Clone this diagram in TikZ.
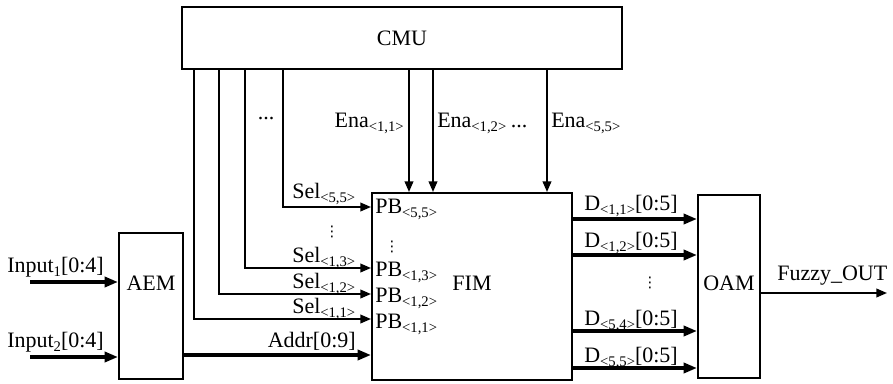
\documentclass[tikz,border=0pt]{standalone}
\usepackage{fontspec}
\setmainfont{Liberation Serif}
\newfontfamily\dvfont{DejaVu Sans}
\usetikzlibrary{arrows.meta,fit}
\newcommand{\sbs}[1]{\raisebox{-0.45ex}{\fontsize{11}{12}\selectfont #1}}
\newcommand{\vdt}{{\dvfont\fontsize{11}{11}\selectfont ⋮}}
\begin{document}
\begin{tikzpicture}[x=0.75pt,y=-0.75pt, font=\fontsize{16.5}{18}\selectfont,
  box/.style={draw, line width=1.5pt, inner sep=0pt},
  thinarrow/.style={line width=1.3pt, -{Triangle[length=8pt,width=6.5pt]}},
  thickarrow/.style={line width=2.6pt, -{Triangle[length=10pt,width=7.5pt]}},
  lbl/.style={inner sep=0pt}]
\useasboundingbox (0,0) rectangle (893,383);

% boxes
\node[box, fit={(182,7)(622,69)}] (cmu) {};
\node[box, fit={(372,193)(572,380)}] (fim) {};
\node[box, fit={(119,233)(183,379)}] (aem) {};
\node[box, fit={(698,195)(760,378)}] (oam) {};
\node[lbl] (cmut) at (cmu.center) {CMU};
\node[lbl] (fimt) at (472,283) {FIM};
\node[lbl] (aemt) at (151,283) {AEM};
\node[lbl] (oamt) at (729,283) {OAM};

% select lines
\coordinate (s11) at (194,319);
\coordinate (s12) at (219,294);
\coordinate (s13) at (245,268);
\coordinate (s55) at (283,207);
\foreach \c in {s11,s12,s13,s55}
  \draw[thinarrow] (cmu.south -| \c) |- (fim.west |- \c);
\node[lbl] (dotsA) at (266,119) {...};

\node[lbl, anchor=base west] (sel55) at (292,198) {Sel\sbs{<5,5>}};
\node[lbl] (vd1) at (332,232) {\vdt};
\node[lbl, anchor=base west] (sel13) at (292,262) {Sel\sbs{<1,3>}};
\node[lbl, anchor=base west] (sel12) at (292,288) {Sel\sbs{<1,2>}};
\node[lbl, anchor=base west] (sel11) at (292,313) {Sel\sbs{<1,1>}};

\node[lbl, anchor=base west] (pb55) at (375,213) {PB\sbs{<5,5>}};
\node[lbl] (vd2) at (392,247) {\vdt};
\node[lbl, anchor=base west] (pb13) at (375,276) {PB\sbs{<1,3>}};
\node[lbl, anchor=base west] (pb12) at (375,302) {PB\sbs{<1,2>}};
\node[lbl, anchor=base west] (pb11) at (375,328) {PB\sbs{<1,1>}};

% enable lines
\coordinate (e11) at (409,0);
\coordinate (e12) at (433,0);
\coordinate (e55) at (547,0);
\foreach \c in {e11,e12,e55}
  \draw[thinarrow] (cmu.south -| \c) -- (fim.north -| \c);
\node[lbl, anchor=base east] (ena11) at (404,127) {Ena\sbs{<1,1>}};
\node[lbl, anchor=base west] (ena12) at (437,127) {Ena\sbs{<1,2>}};
\node[lbl, anchor=base] (dotsB) at (519,127) {...};
\node[lbl, anchor=base west] (ena55) at (551,127) {Ena\sbs{<5,5>}};

% inputs
\coordinate (in1) at (30,282);
\coordinate (in2) at (30,357);
\draw[thickarrow] (in1) -- (aem.west |- in1);
\draw[thickarrow] (in2) -- (aem.west |- in2);
\node[lbl, anchor=base west] (inl1) at (7,272) {Input\sbs{1}[0:4]};
\node[lbl, anchor=base west] (inl2) at (7,347) {Input\sbs{2}[0:4]};

% address
\coordinate (ad) at (0,355);
\draw[thickarrow] (aem.east |- ad) -- (fim.west |- ad);
\node[lbl, anchor=base east] (addr) at (356,347) {Addr[0:9]};

% data outputs
\coordinate (d1) at (0,219);
\coordinate (d2) at (0,255);
\coordinate (d3) at (0,331);
\coordinate (d4) at (0,368);
\foreach \c in {d1,d2,d3,d4}
  \draw[thickarrow] (fim.east |- \c) -- (oam.west |- \c);
\node[lbl, anchor=base west] (dl1) at (584,210) {D\sbs{<1,1>}[0:5]};
\node[lbl, anchor=base west] (dl2) at (584,247) {D\sbs{<1,2>}[0:5]};
\node[lbl] (vd3) at (650,283) {\vdt};
\node[lbl, anchor=base west] (dl3) at (584,325) {D\sbs{<5,4>}[0:5]};
\node[lbl, anchor=base west] (dl4) at (584,362) {D\sbs{<5,5>}[0:5]};

% fuzzy out
\coordinate (fo) at (887,293);
\draw[thinarrow] (oam.east |- fo) -- (fo);
\node[lbl, anchor=base west] (fol) at (777,280) {Fuzzy\_OUT};
\end{tikzpicture}
\end{document}
